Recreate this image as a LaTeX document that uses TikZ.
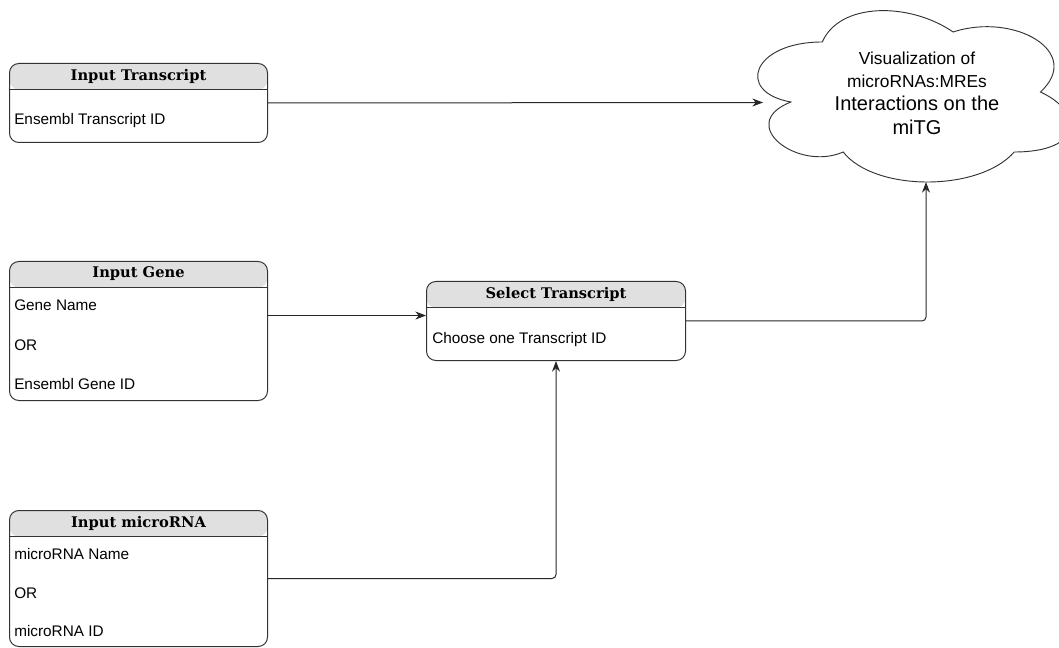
\documentclass[tikz,border=0pt]{standalone}
\usepackage{fontspec}
\setmainfont{Liberation Sans}
\newfontfamily\headfont{DejaVu Serif}
\usetikzlibrary{arrows.meta}
\tikzstyle{panel} = [rectangle, rounded corners=7pt, minimum width=193.5pt, inner sep=0pt, anchor=north west, draw=black!80, line width=0.75pt, fill=white,
  path picture={
    \fill[black!12] (path picture bounding box.north west) rectangle ([yshift=-19.5pt]path picture bounding box.north east);
    \draw[black!80, line width=0.75pt] ([yshift=-19.5pt]path picture bounding box.north west) -- ([yshift=-19.5pt]path picture bounding box.north east);
  }]
\tikzstyle{paneltitle} = [font=\headfont\bfseries\fontsize{11}{13}\selectfont, inner sep=0pt]
\tikzstyle{paneltext} = [font=\fontsize{11.5}{14}\selectfont, anchor=west, inner sep=0pt]
\tikzstyle{cloudline} = [draw=black!80, line width=0.7pt, fill=white]
\tikzstyle{cloudtext} = [align=center, font=\fontsize{13}{17.5}\selectfont, inner sep=0pt]
\tikzstyle{arrow} = [draw=black!85, line width=0.75pt, rounded corners=3pt, -{Stealth[length=8pt,width=6pt]}]

\begin{document}
\begin{tikzpicture}[x=0.75pt, y=-0.75pt]
        \useasboundingbox (0,0) rectangle (1059,648);
        \clip (0,0) rectangle (1059,648);

        % the cloud
        \draw [cloudline] (822.25,42) .. controls (752.45,42) and (735,92) .. (790.84,102)
          .. controls (735,124) and (797.82,172) .. (843.19,152)
          .. controls (874.6,192) and (979.3,192) .. (1014.2,152)
          .. controls (1084,152) and (1084,112) .. (1040.4,92)
          .. controls (1084,52) and (1014.2,12) .. (953.1,32)
          .. controls (909.5,2) and (839.7,2) .. (822.25,42) -- cycle;
        \node (viz) [cloudtext] at (917,93) {Visualization of\\microRNAs:MREs\\{\fontsize{15}{17.5}\selectfont Interactions on the}\\{\fontsize{15}{17.5}\selectfont miTG}};
        \coordinate (vizwest) at (763,102.5);
        \coordinate (vizsouth) at (926,182);

        % input panels
        \node (transcript) [panel, minimum height=59.25pt] at (9,63) {};
        \node (transcripttitle) [paneltitle] at ([yshift=-9.75pt]transcript.north) {Input Transcript};
        \node (transcriptid) [paneltext] at (14,121) {Ensembl Transcript ID};

        \node (gene) [panel, minimum height=104.25pt] at (9,261) {};
        \node (genetitle) [paneltitle] at ([yshift=-9.75pt]gene.north) {Input Gene};
        \node (genename) [paneltext] at (14,305) {Gene Name};
        \node (geneor) [paneltext] at (14,345) {OR};
        \node (geneid) [paneltext] at (14,384) {Ensembl Gene ID};

        \node (mirna) [panel, minimum height=102pt] at (9,510) {};
        \node (mirnatitle) [paneltitle] at ([yshift=-9.75pt]mirna.north) {Input microRNA};
        \node (mirnaname) [paneltext] at (14,554) {microRNA Name};
        \node (mirnaor) [paneltext] at (14,593) {OR};
        \node (mirnaid) [paneltext] at (14,631) {microRNA ID};

        \node (select) [panel, minimum width=194.25pt, minimum height=59.25pt] at (426,281) {};
        \node (selecttitle) [paneltitle] at ([yshift=-9.75pt]select.north) {Select Transcript};
        \node (selectid) [paneltext] at (432,340) {Choose one Transcript ID};

        \draw [arrow] (transcript.east) -- (vizwest);
        \draw [arrow] ([yshift=11.6pt]gene.east) -- ([yshift=11.6pt]gene.east -| select.west);
        \draw [arrow] (mirna.east) -| (select.south);
        \draw [arrow] (select.east) -| (vizsouth);

\end{tikzpicture}
\end{document}
